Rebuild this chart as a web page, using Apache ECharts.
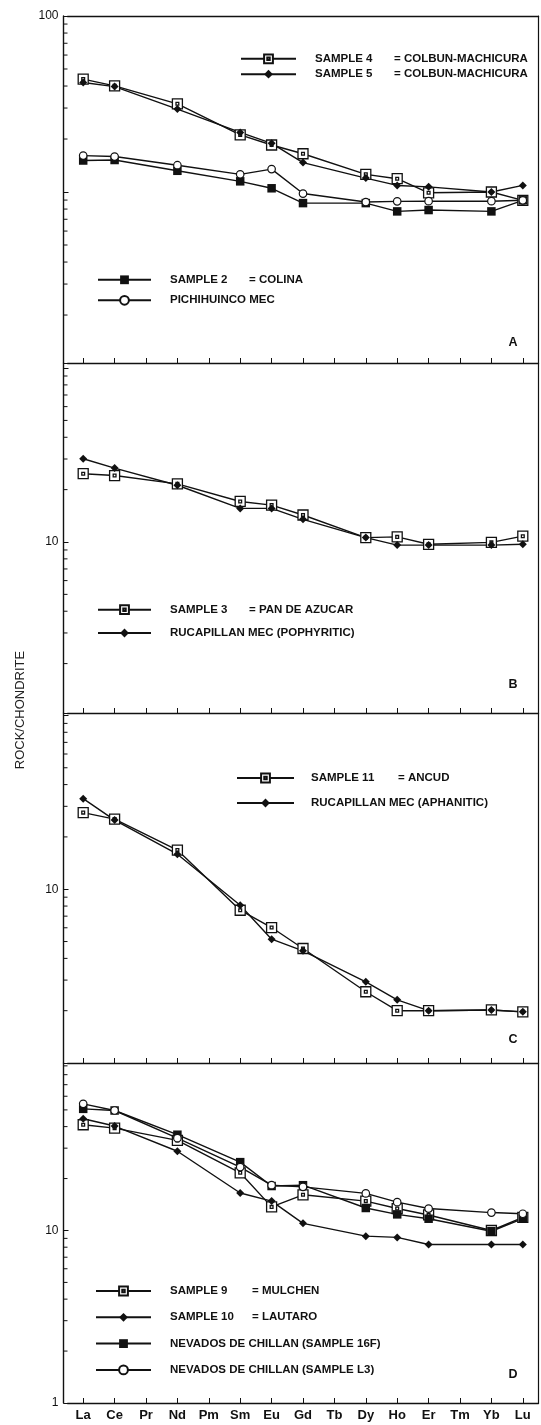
<!DOCTYPE html>
<html><head><meta charset="utf-8">
<script src="https://cdn.jsdelivr.net/npm/echarts@6/dist/echarts.min.js"></script>
<style>html,body{margin:0;padding:0;background:#fff}#c{width:541px;height:1425px}</style>
</head><body><div id="c"></div>
<script>
// ---------- data ----------
const categories = ['La','Ce','Pr','Nd','Pm','Sm','Eu','Gd','Tb','Dy','Ho','Er','Tm','Yb','Lu'];
const yLabelsA = ['100'];
const yLabelsB = ['10'];
const yLabelsC = ['10'];
const yLabelsD = ['10', '1'];
const minorTickValues = [2,3,4,5,6,7,8,9,20,30,40,50,60,70,80,90];

// Panel A
const sample4     = [43.8, 40.1, null, 31.7, null, 21.1, 18.5, 16.5, null, 12.6, 11.9, 9.9, null, 10.0, 8.97];
const sample5     = [41.9, 39.7, null, 29.6, null, 21.8, 18.9, 14.7, null, 12.0, 10.9, 10.7, null, 10.0, 10.9];
const sample2     = [15.1, 15.2, null, 13.2, null, 11.5, 10.5, 8.65, null, 8.65, 7.76, 7.9, null, 7.76, 8.97];
const pichihuinco = [16.1, 15.9, null, 14.2, null, 12.6, 13.5, 9.8, null, 8.77, 8.85, 8.87, null, 8.87, 8.97];
// Panel B
const sample3         = [24.7, 24.1, null, 21.6, null, 17.1, 16.3, 14.3, null, 10.6, 10.7, 9.7, null, 9.95, 10.8];
const rucapillanPorph = [30.1, 26.6, null, 21.2, null, 15.6, 15.6, 13.5, null, 10.6, 9.6, 9.6, null, 9.6, 9.7];
// Panel C
const sample11        = [27.6, 25.3, null, 16.8, null, 7.57, 6.02, 4.56, null, 2.57, 2.0, 2.0, null, 2.02, 1.97];
const rucapillanAphan = [33.2, 25.0, null, 15.9, null, 8.09, 5.16, 4.42, null, 2.93, 2.31, 2.0, null, 2.02, 1.97];
// Panel D
const sample9    = [41.0, 39.2, null, 33.3, null, 21.6, 13.7, 16.1, null, 14.8, 13.4, 12.3, null, 10.0, 11.9];
const sample10   = [44.4, 40.3, null, 28.8, null, 16.5, 14.8, 11.0, null, 9.27, 9.12, 8.3, null, 8.3, 8.3];
const nevados16F = [50.7, 49.6, null, 35.9, null, 24.9, 18.1, 18.3, null, 13.5, 12.4, 11.7, null, 9.9, 11.7];
const nevadosL3  = [54.2, 49.6, null, 34.3, null, 23.3, 18.3, 17.9, null, 16.4, 14.6, 13.4, null, 12.7, 12.5];

// ---------- styles ----------
const INK = '#111';
const FONT = 'Liberation Sans, Arial, sans-serif';
const SYM = {
  sqdot: {symbol: 'path://M0,0H10V10H0Z M3.6,3.6H6.4V6.4H3.6Z', symbolSize: 10,
          itemStyle: {color: '#fff', borderColor: INK, borderWidth: 1.3}},
  sq:    {symbol: 'rect', symbolSize: 8.5, itemStyle: {color: INK}},
  dia:   {symbol: 'diamond', symbolSize: 8, itemStyle: {color: INK}},
  circ:  {symbol: 'circle', symbolSize: 7.5, itemStyle: {color: '#fff', borderColor: INK, borderWidth: 1.2}}
};

const panels = [
  {top: 16, height: 347, min: 1.068, max: 100, labels: yLabelsA, letter: 'A', letterY: 343,
   series: [
     {name: 'SAMPLE 4 = COLBUN-MACHICURA', data: sample4, sym: 'sqdot'},
     {name: 'SAMPLE 5 = COLBUN-MACHICURA', data: sample5, sym: 'dia'},
     {name: 'SAMPLE 2 = COLINA', data: sample2, sym: 'sq'},
     {name: 'PICHIHUINCO MEC', data: pichihuinco, sym: 'circ'}
   ],
   legends: [
     {names: ['SAMPLE 4 = COLBUN-MACHICURA', 'SAMPLE 5 = COLBUN-MACHICURA'], left: 240, top: 52.8, itemWidth: 55, gap: 3.4, spacer: 14, col: 79},
     {names: ['SAMPLE 2 = COLINA', 'PICHIHUINCO MEC'], left: 97, top: 273.8, itemWidth: 53, gap: 8.5, spacer: 14, col: 79}
   ]},
  {top: 363, height: 350, min: 1.04, max: 106.9, labels: yLabelsB, letter: 'B', letterY: 685,
   series: [
     {name: 'SAMPLE 3 = PAN DE AZUCAR', data: sample3, sym: 'sqdot'},
     {name: 'RUCAPILLAN MEC (POPHYRITIC)', data: rucapillanPorph, sym: 'dia'}
   ],
   legends: [
     {names: ['SAMPLE 3 = PAN DE AZUCAR', 'RUCAPILLAN MEC (POPHYRITIC)'], left: 97, top: 603.7, itemWidth: 53, gap: 11.3, spacer: 14, col: 79}
   ]},
  {top: 713, height: 350, min: 1, max: 103.3, labels: yLabelsC, letter: 'C', letterY: 1040,
   series: [
     {name: 'SAMPLE 11 = ANCUD', data: sample11, sym: 'sqdot'},
     {name: 'RUCAPILLAN MEC (APHANITIC)', data: rucapillanAphan, sym: 'dia'}
   ],
   legends: [
     {names: ['SAMPLE 11 = ANCUD', 'RUCAPILLAN MEC (APHANITIC)'], left: 236, top: 772, itemWidth: 57, gap: 13, spacer: 12, col: 87}
   ]},
  {top: 1063, height: 340, min: 1, max: 93.5, labels: yLabelsD, letter: 'D', letterY: 1375,
   series: [
     {name: 'SAMPLE 9 = MULCHEN', data: sample9, sym: 'sqdot'},
     {name: 'SAMPLE 10 = LAUTARO', data: sample10, sym: 'dia'},
     {name: 'NEVADOS DE CHILLAN (SAMPLE 16F)', data: nevados16F, sym: 'sq'},
     {name: 'NEVADOS DE CHILLAN (SAMPLE L3)', data: nevadosL3, sym: 'circ'}
   ],
   legends: [
     {names: ['SAMPLE 9 = MULCHEN', 'SAMPLE 10 = LAUTARO', 'NEVADOS DE CHILLAN (SAMPLE 16F)', 'NEVADOS DE CHILLAN (SAMPLE L3)'], left: 95, top: 1285, itemWidth: 55, gap: 14.3, spacer: 14, col: 82}
   ]}
];

// ---------- build option ----------
const GRID_LEFT = 67.5, GRID_WIDTH = 471, AXIS_OFFSET = 4;
const grid = [], xAxis = [], yAxis = [], series = [], legend = [], graphic = [];
const txt = {fontFamily: FONT, fontSize: 11.5, fontWeight: 'bold', color: INK, lineHeight: 12};

panels.forEach((p, i) => {
  grid.push({left: GRID_LEFT, top: p.top, width: GRID_WIDTH, height: p.height, containLabel: false});
  xAxis.push({
    gridIndex: i, type: 'category', data: categories, boundaryGap: true, position: 'bottom',
    axisLine: {lineStyle: {color: INK, width: 1.4}},
    axisTick: {show: true, inside: true, length: 5, alignWithLabel: true, interval: 0, lineStyle: {color: INK, width: 1}},
    axisLabel: {show: i === panels.length - 1, interval: 0, margin: 6, color: INK, fontFamily: FONT, fontSize: 13, fontWeight: 'bold'},
    splitLine: {show: false}
  });
});
// top frame of panel A
xAxis.push({gridIndex: 0, type: 'category', data: categories, position: 'top', boundaryGap: true,
  axisLine: {lineStyle: {color: INK, width: 1.4}}, axisTick: {show: false}, axisLabel: {show: false}, splitLine: {show: false}});

panels.forEach((p, i) => {
  yAxis.push({
    gridIndex: i, type: 'log', logBase: 10, min: p.min, max: p.max, position: 'left', offset: AXIS_OFFSET,
    axisLine: {show: true, lineStyle: {color: INK, width: 1.4}},
    axisTick: {show: true, inside: true, length: 5, lineStyle: {color: INK, width: 1}},
    axisLabel: {margin: 5, color: INK, fontFamily: FONT, fontSize: 12,
      formatter: v => p.labels.includes(String(v)) ? String(v) : ''},
    splitLine: {show: false}
  });
});
panels.forEach((p, i) => {
  yAxis.push({
    gridIndex: i, type: 'log', logBase: 10, min: p.min, max: p.max, position: 'right',
    axisLine: {show: true, lineStyle: {color: INK, width: 1.2}},
    axisTick: {show: false}, axisLabel: {show: false}, splitLine: {show: false}
  });
});

panels.forEach((p, i) => {
  p.series.forEach(s => {
    const st = SYM[s.sym];
    series.push({
      name: s.name, type: 'line', xAxisIndex: i, yAxisIndex: i, data: s.data,
      connectNulls: true, symbol: st.symbol, symbolSize: st.symbolSize,
      itemStyle: st.itemStyle, lineStyle: {color: INK, width: 1.4},
      showAllSymbol: true, z: 2
    });
  });
  // minor ticks of the log axis, placed through the axis scale
  series.push({
    type: 'custom', xAxisIndex: i, yAxisIndex: i, silent: true, z: 3,
    data: minorTickValues.filter(v => v > p.min && v < p.max).map(v => [0, v]),
    renderItem: (params, api) => {
      const y = api.coord([0, api.value(1)])[1];
      const x0 = params.coordSys.x - AXIS_OFFSET;
      return {type: 'line', shape: {x1: x0, y1: y, x2: x0 + 4, y2: y}, style: {stroke: INK, lineWidth: 1}};
    }
  });
  p.legends.forEach(l => {
    legend.push({
      orient: 'vertical', left: l.left, top: l.top, padding: 0, itemWidth: l.itemWidth, itemHeight: 11,
      itemGap: l.gap, data: l.names, selectedMode: false,
      textStyle: Object.assign({}, txt, {rich: {
        s: Object.assign({}, txt, {width: l.spacer}),
        a: Object.assign({}, txt, {width: l.col}),
        b: Object.assign({}, txt),
        c: Object.assign({}, txt)
      }}),
      formatter: name => {
        const k = name.indexOf(' = ');
        return k < 0 ? '{s| }{c|' + name + '}' : '{s| }{a|' + name.slice(0, k) + '}{b|' + name.slice(k + 1) + '}';
      }
    });
  });
  graphic.push({type: 'text', x: 513, y: p.letterY, style: {text: p.letter, fontFamily: FONT, fontSize: 12.5, fontWeight: 'bold', fill: INK, align: 'center', verticalAlign: 'middle'}});
});

graphic.push({type: 'text', x: 20, y: 710, rotation: Math.PI / 2,
  style: {text: 'ROCK/CHONDRITE', fontFamily: FONT, fontSize: 13, fill: '#222', align: 'center', verticalAlign: 'middle'}});

const chart = echarts.init(document.getElementById('c'), null, {renderer: 'canvas'});
chart.setOption({animation: false, backgroundColor: '#fff', grid, xAxis, yAxis, series, legend, graphic});
</script>
</body></html>
